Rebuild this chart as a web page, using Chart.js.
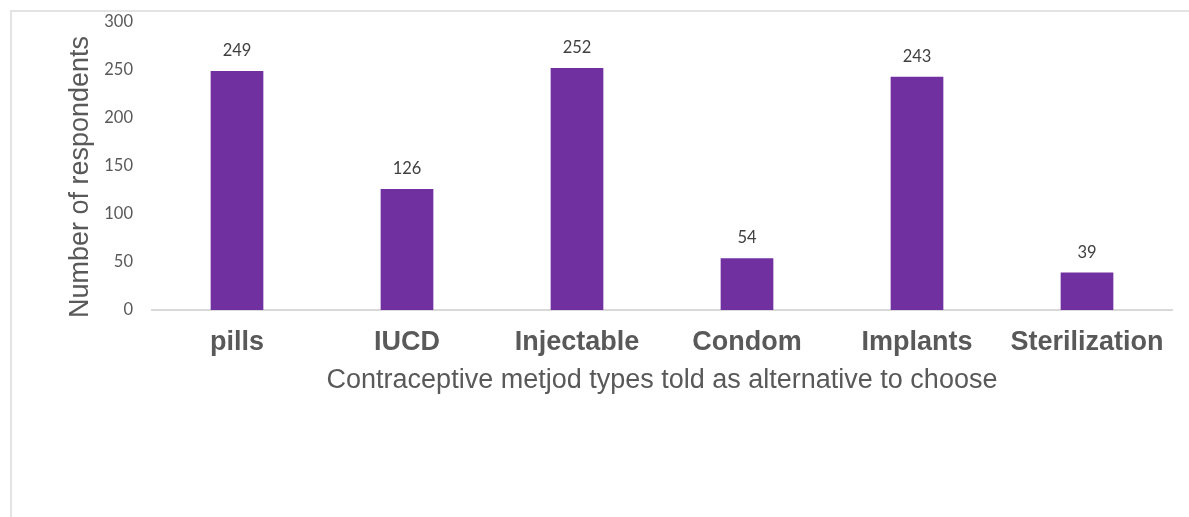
<!DOCTYPE html>
<html>
<head>
<meta charset="utf-8">
<script src="https://cdn.jsdelivr.net/npm/chart.js@4.4.1/dist/chart.umd.min.js"></script>
<style>
  html, body { margin: 0; padding: 0; background: #ffffff; overflow: hidden; }
  #wrap { position: relative; width: 1189px; height: 517px; }
  #frame { position: absolute; left: 10px; top: 10px; width: 1300px; height: 600px;
           border-left: 2px solid #e3e3e3; border-top: 2px solid #e3e3e3; box-sizing: border-box; }
  canvas { position: absolute; left: 0; top: 0; }
</style>
</head>
<body>
<div id="wrap">
  <div id="frame"></div>
  <canvas id="chart" width="1189" height="517"></canvas>
</div>
<script>
// Contraceptive methods mentioned to respondents as alternatives
const categories = ['pills', 'IUCD', 'Injectable', 'Condom', 'Implants', 'Sterilization'];
const respondents = [249, 126, 252, 54, 243, 39];
const yTicks = [0, 50, 100, 150, 200, 250, 300];
const yTitle = 'Number of respondents';
const xTitle = 'Contraceptive metjod types told as alternative to choose';

const BAR_COLOR = '#7030A0';
const TEXT_GREY = '#595959';
const SANS = '"Liberation Sans", Arial, sans-serif';
const NUM_FONT = 'Lato, "Liberation Sans", sans-serif';

// Writes each bar's value just above it
const valueLabels = {
  id: 'valueLabels',
  afterDatasetsDraw(chart) {
    const { ctx } = chart;
    const meta = chart.getDatasetMeta(0);
    ctx.save();
    ctx.font = '16.5px ' + NUM_FONT;
    ctx.fillStyle = '#404040';
    ctx.textAlign = 'center';
    ctx.textBaseline = 'middle';
    meta.data.forEach((bar, i) => {
      ctx.fillText(String(chart.data.datasets[0].data[i]), bar.x, bar.y - 20);
    });
    ctx.restore();
  }
};

// Vertical axis title, set a little below the middle of the plot
const yAxisTitle = {
  id: 'yAxisTitle',
  afterDraw(chart) {
    const { ctx } = chart;
    ctx.save();
    ctx.translate(81, 177);
    ctx.rotate(-Math.PI / 2);
    ctx.font = '27px ' + SANS;
    ctx.fillStyle = TEXT_GREY;
    ctx.textAlign = 'center';
    ctx.textBaseline = 'middle';
    ctx.fillText(yTitle, 0, 0);
    ctx.restore();
  }
};

new Chart(document.getElementById('chart'), {
  type: 'bar',
  data: {
    labels: categories,
    datasets: [{
      data: respondents,
      backgroundColor: BAR_COLOR,
      borderWidth: 0,
      barPercentage: 0.31,
      categoryPercentage: 1.0
    }]
  },
  options: {
    responsive: false,
    animation: false,
    devicePixelRatio: 1,
    layout: { padding: { left: 65, right: 17, top: 22, bottom: 120 } },
    plugins: { legend: { display: false }, tooltip: { enabled: false } },
    scales: {
      x: {
        grid: { display: false, drawTicks: false },
        border: { display: true, color: '#d9d9d9', width: 2 },
        ticks: {
          color: TEXT_GREY,
          padding: 16,
          font: { family: SANS, size: 27, weight: 'bold' }
        },
        title: {
          display: true,
          text: xTitle,
          color: TEXT_GREY,
          padding: 0,
          font: { family: SANS, size: 27, lineHeight: 1.2 }
        },
        afterFit(scale) { scale.height = 87; }
      },
      y: {
        min: 0,
        max: 300,
        afterBuildTicks(scale) { scale.ticks = yTicks.map(v => ({ value: v })); },
        grid: { display: false, drawTicks: false },
        border: { display: false },
        ticks: {
          color: TEXT_GREY,
          padding: 19,
          font: { family: NUM_FONT, size: 16.5 }
        },
        afterFit(scale) {
          scale.width = 87;
          scale.paddingTop = 0;
          scale.paddingBottom = 0;
        }
      }
    }
  },
  plugins: [valueLabels, yAxisTitle]
});
</script>
</body>
</html>
